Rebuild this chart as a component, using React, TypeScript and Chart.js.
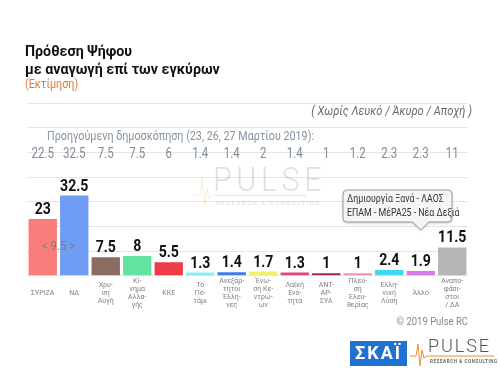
import React, { useEffect, useRef } from "react";
import { Chart, registerables } from "chart.js";
Chart.register(...registerables);

const categories: string[][] = [
  ["ΣΥΡΙΖΑ"],
  ["ΝΔ"],
  ["Χρυ-", "ση", "Αυγή"],
  ["Κί-", "νημα", "Αλλα-", "γής"],
  ["ΚΚΕ"],
  ["Το", "Πο-", "τάμι"],
  ["Ανεξάρ-", "τητοι", "Έλλη-", "νες"],
  ["Ένω-", "ση Κε-", "ντρώ-", "ων"],
  ["Λαϊκή", "Ενό-", "τητα"],
  ["ΑΝΤ-", "ΑΡ-", "ΣΥΑ"],
  ["Πλεύ-", "ση", "Ελευ-", "θερίας"],
  ["Ελλη-", "νική", "Λύση"],
  ["Άλλο"],
  ["Αναπο-", "φάσι-", "στοι", "/ ΔΑ"],
];
const currentValues = [23, 32.5, 7.5, 8, 5.5, 1.3, 1.4, 1.7, 1.3, 1, 1, 2.4, 1.9, 11.5];
const previousValues = ["22.5", "32.5", "7.5", "7.5", "6", "1.4", "1.4", "2", "1.4", "1", "1.2", "2.3", "2.3", "11"];
const barColors = [
  "#f87d7b", "#6f9df3", "#8c6b61", "#62e3a2", "#ee3d47", "#84eff4", "#3f7de0",
  "#f0f16c", "#e1467b", "#a0245c", "#f493b1", "#3fd8ee", "#d57ce8", "#b5b5b5",
];
const gapLabel = "< 9.5 >";
const calloutLines = ["Δημιουργία Ξανά - ΛΑΟΣ", "ΕΠΑΜ - ΜέΡΑ25 - Νέα Δεξιά"];
const calloutIndex = 12;

function txt(ctx: CanvasRenderingContext2D, s: string, x: number, y: number, font: string, color: string, align: CanvasTextAlign = "left", sx = 1, baseline: CanvasTextBaseline = "middle") {
  ctx.save();
  ctx.font = font;
  ctx.fillStyle = color;
  ctx.textAlign = align;
  ctx.textBaseline = baseline;
  ctx.translate(x, y);
  ctx.scale(sx, 1);
  ctx.fillText(s, 0, 0);
  ctx.restore();
}

const decorPlugin = {
  id: "decor",
  beforeDatasetsDraw(chart: any) {
    const ctx: CanvasRenderingContext2D = chart.ctx;
    // watermark
    ctx.save();
    ctx.globalAlpha = 0.18;
    (ctx as any).letterSpacing = "5px";
    txt(ctx, "PULSE", 213, 182, "300 34px Roboto", "#555", "left", 0.9);
    (ctx as any).letterSpacing = "0px";
    ctx.fillStyle = "#777";
    ctx.fillRect(216, 195, 90, 1);
    (ctx as any).letterSpacing = "1.5px";
    txt(ctx, "RESEARCH & CONSULTING", 216, 203, "bold 6px Roboto", "#777", "left", 1);
    ctx.restore();
    ctx.save();
    ctx.globalAlpha = 0.2;
    ctx.strokeStyle = "#e0a050";
    ctx.lineWidth = 1;
    ctx.beginPath();
    ctx.moveTo(193, 195);
    ctx.lineTo(200, 195);
    ctx.lineTo(202, 178);
    ctx.lineTo(205, 205);
    ctx.lineTo(207, 188);
    ctx.lineTo(209, 198);
    ctx.lineTo(212, 195);
    ctx.lineTo(216, 195);
    ctx.stroke();
    ctx.restore();
  },
  afterDraw(chart: any) {
    const ctx: CanvasRenderingContext2D = chart.ctx;
    const xs = chart.scales.x;
    const ys = chart.scales.y;
    // headings
    txt(ctx, "Πρόθεση Ψήφου", 25, 52, "bold 15px Roboto", "#111", "left", 0.95);
    txt(ctx, "με αναγωγή επί των εγκύρων", 25, 70, "bold 15px Roboto", "#111", "left", 0.95);
    txt(ctx, "(Εκτίμηση)", 25, 85, "12px Roboto", "#e07a3c", "left", 0.9);
    txt(ctx, "( Χωρίς Λευκό / Άκυρο / Αποχή )", 472, 112, "italic 12px Roboto", "#6a6a6a", "right", 0.93);
    txt(ctx, "Προηγούμενη δημοσκόπηση (23, 26, 27 Μαρτίου 2019):", 47, 137, "12.5px Roboto", "#8593a1", "left", 0.86);
    previousValues.forEach((v, i) => {
      txt(ctx, v, xs.getPixelForValue(i), 154, "14px Roboto", "#7f8c99", "center", 0.82);
    });
    // bar value labels
    const meta = chart.getDatasetMeta(0);
    meta.data.forEach((bar: any, i: number) => {
      txt(ctx, String(currentValues[i]), bar.x, bar.y - 5, "bold 16px Roboto", "#111", "center", 0.88, "alphabetic");
    });
    // gap label
    const gx = (xs.getPixelForValue(0) + xs.getPixelForValue(1)) / 2;
    txt(ctx, gapLabel, gx, ys.getPixelForValue(11.6), "12px Roboto", "#7d7d7d", "center", 0.95);
    // callout
    const tipX = xs.getPixelForValue(calloutIndex);
    const bx = 343, by = 190, bw = 109, bh = 32, r = 4;
    const tipY = 230;
    ctx.save();
    ctx.beginPath();
    ctx.moveTo(bx + r, by);
    ctx.lineTo(bx + bw - r, by);
    ctx.quadraticCurveTo(bx + bw, by, bx + bw, by + r);
    ctx.lineTo(bx + bw, by + bh - r);
    ctx.quadraticCurveTo(bx + bw, by + bh, bx + bw - r, by + bh);
    ctx.lineTo(tipX + 8, by + bh);
    ctx.lineTo(tipX, tipY);
    ctx.lineTo(tipX - 8, by + bh);
    ctx.lineTo(bx + r, by + bh);
    ctx.quadraticCurveTo(bx, by + bh, bx, by + bh - r);
    ctx.lineTo(bx, by + r);
    ctx.quadraticCurveTo(bx, by, bx + r, by);
    ctx.closePath();
    ctx.shadowColor = "rgba(0,0,0,0.25)";
    ctx.shadowBlur = 3;
    ctx.shadowOffsetY = 1;
    ctx.fillStyle = "#f5f5f5";
    ctx.fill();
    ctx.shadowColor = "transparent";
    ctx.strokeStyle = "#9a9a9a";
    ctx.lineWidth = 1;
    ctx.stroke();
    ctx.restore();
    txt(ctx, calloutLines[0], bx + 4, by + 9, "11px Roboto", "#333", "left", 0.8);
    txt(ctx, calloutLines[1], bx + 4, by + 23, "11px Roboto", "#333", "left", 0.8);
    // copyright
    txt(ctx, "© 2019 Pulse RC", 468, 322, "10px Roboto", "#888", "right", 0.95);
    // SKAI logo
    ctx.save();
    ctx.fillStyle = "#1f72d3";
    ctx.fillRect(350, 341, 57, 25);
    ctx.restore();
    (ctx as any).letterSpacing = "2px";
    txt(ctx, "ΣΚΑΪ", 378.5, 354, "bold 18px Roboto", "#fff", "center", 1);
    (ctx as any).letterSpacing = "0px";
    // PULSE logo
    ctx.save();
    ctx.strokeStyle = "#e8912f";
    ctx.lineWidth = 1;
    ctx.beginPath();
    ctx.moveTo(410, 356);
    ctx.lineTo(416, 356);
    ctx.lineTo(418, 344);
    ctx.lineTo(420, 366);
    ctx.lineTo(422, 350);
    ctx.lineTo(424, 358);
    ctx.lineTo(427, 356);
    ctx.lineTo(494, 356);
    ctx.stroke();
    ctx.restore();
    (ctx as any).letterSpacing = "2px";
    txt(ctx, "PULSE", 428, 347, "300 19px Roboto", "#555", "left", 0.95);
    (ctx as any).letterSpacing = "0.6px";
    txt(ctx, "RESEARCH & CONSULTING", 430, 362, "bold 4.5px Roboto", "#666", "left", 1);
    (ctx as any).letterSpacing = "0px";
  },
};

export default function App() {
  const ref = useRef<HTMLCanvasElement>(null);
  useEffect(() => {
    if (!ref.current) return;
    const chart = new Chart(ref.current, {
      type: "bar",
      data: {
        labels: categories,
        datasets: [
          {
            data: currentValues,
            backgroundColor: barColors,
            barPercentage: 0.9,
            categoryPercentage: 1,
          },
        ],
      },
      options: {
        responsive: false,
        animation: false,
        layout: { padding: { top: 103, left: 27, right: 32, bottom: 59 } },
        plugins: { legend: { display: false }, tooltip: { enabled: false } },
        scales: {
          x: {
            grid: { display: false, drawTicks: false },
            border: { display: false },
            ticks: {
              color: "#808080",
              font: { family: "Roboto", size: 7, lineHeight: 1.15 },
              padding: 5,
              maxRotation: 0,
              autoSkip: false,
              crossAlign: "center",
            },
          },
          y: {
            min: 0,
            max: 70,
            ticks: { display: false, stepSize: 10 },
            grid: { color: "#e4e4e4", drawTicks: false },
            border: { display: false },
          },
        },
      },
      plugins: [decorPlugin],
    });
    return () => chart.destroy();
  }, []);
  return (
    <div style={{ position: "absolute", left: 0, top: 0, width: 500, height: 377, background: "#fff" }}>
      <canvas ref={ref} width={500} height={377} style={{ display: "block" }} />
    </div>
  );
}
